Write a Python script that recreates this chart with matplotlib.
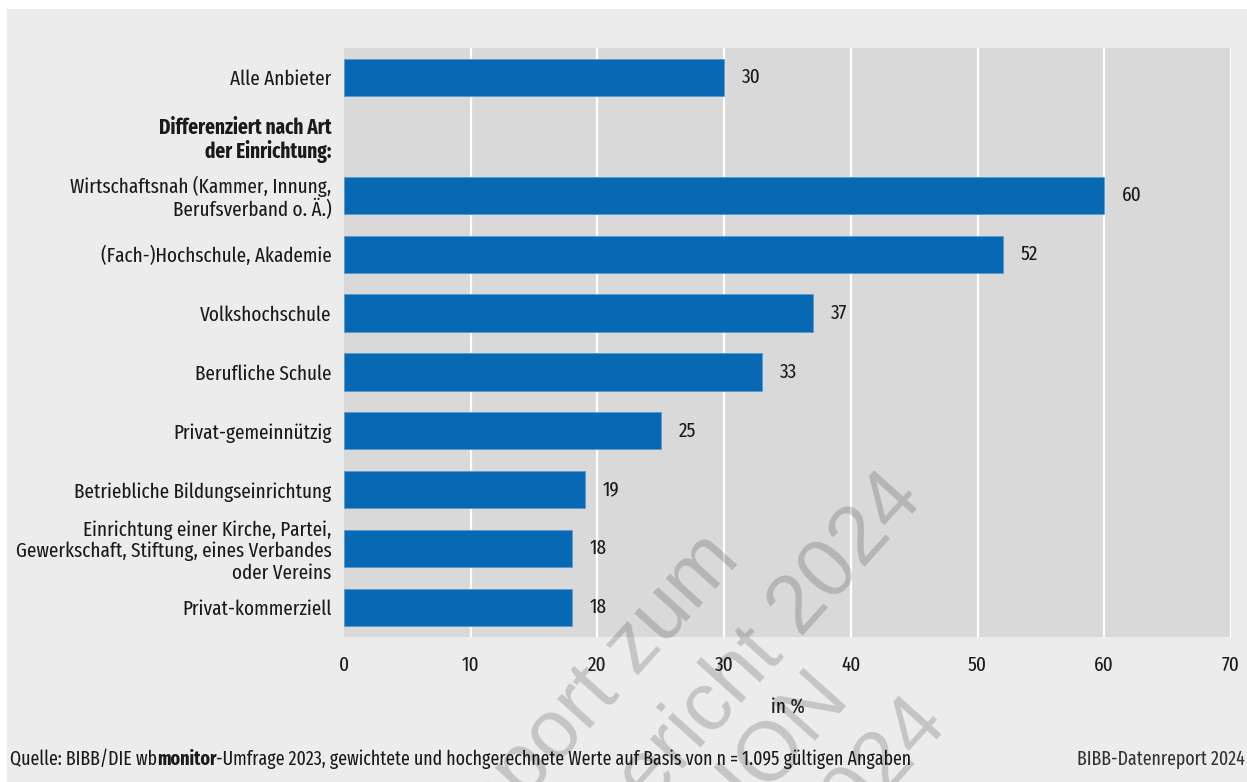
import matplotlib
matplotlib.use("Agg")
import matplotlib.pyplot as plt
from matplotlib import font_manager
from matplotlib.patches import Rectangle

# data
categories = ['Alle Anbieter',
              'Wirtschaftsnah (Kammer, Innung,\nBerufsverband o. Ä.)',
              '(Fach-)Hochschule, Akademie',
              'Volkshochschule',
              'Berufliche Schule',
              'Privat-gemeinnützig',
              'Betriebliche Bildungseinrichtung',
              'Einrichtung einer Kirche, Partei,\nGewerkschaft, Stiftung, eines Verbandes\noder Vereins',
              'Privat-kommerziell']
values = [30, 60, 52, 37, 33, 25, 19, 18, 18]
heading = 'Differenziert nach Art\nder Einrichtung:'
xticks = [0, 10, 20, 30, 40, 50, 60, 70]

# font: prefer a narrow face
names = {f.name for f in font_manager.fontManager.ttflist}
FONT = 'DejaVu Sans'
for cand in ['Fira Sans Extra Condensed', 'Fira Sans Condensed', 'Roboto Condensed',
             'Barlow Semi Condensed', 'Archivo Narrow', 'Asap Condensed']:
    if cand in names:
        FONT = cand
        break
FS = 15 if FONT != 'DejaVu Sans' else 11.5
plt.rcParams['font.family'] = [FONT, 'DejaVu Sans']
TXT = '#1a1a1a'

W, H = 1247, 782
fig = plt.figure(figsize=(W / 100, H / 100), dpi=100)
fig.patch.set_facecolor('white')
fig.patches.append(Rectangle((7 / W, 0), 1 - 7 / W, 1 - 9 / H, transform=fig.transFigure,
                             facecolor='#ececec', edgecolor='none', zorder=-10))

ax = fig.add_axes([344 / W, 1 - 637 / H, (1231 - 344) / W, (637 - 48) / H])
ax.set_facecolor('#d9d9d9')
for s in ax.spines.values():
    s.set_visible(False)

pos = [0] + list(range(2, 10))
ax.barh(pos, values, height=0.63, color='#0769b3', edgecolor='#5a9bd1', linewidth=0.6, zorder=3)
for p, v in zip(pos, values):
    ax.annotate(str(v), (v, p), xytext=(13, 0), textcoords='offset points',
                va='center', ha='left', fontsize=FS, color=TXT, zorder=4)

ax.set_xlim(0, 70)
ax.set_ylim(9.5, -0.5)
ax.set_xticks(xticks)
ax.set_xticklabels([str(t) for t in xticks], fontsize=FS, color=TXT)
ax.set_yticks([0, 1] + pos[1:])
ylabels = [categories[0], heading] + categories[1:]
ax.set_yticklabels(ylabels, fontsize=FS, color=TXT, linespacing=1.12)
ax.get_yticklabels()[1].set_fontweight('bold')
ax.tick_params(axis='both', length=0)
ax.tick_params(axis='y', pad=9)
ax.tick_params(axis='x', pad=13)

ax.grid(axis='x', color='white', linewidth=1.6, zorder=1)
ax.set_axisbelow(True)
ax.xaxis.get_gridlines()[0].set_visible(False)

ax.set_xlabel('in %', fontsize=FS, color=TXT)
ax.xaxis.label.set_va('center')
ax.xaxis.set_label_coords(0.5, (637 - 707) / 589)

# footer
FS2 = FS - 1
fig.canvas.draw()
r = fig.canvas.get_renderer()
x = 10 / W
yb = 1 - 765 / H
for txt, wt in [('Quelle: BIBB/DIE wb', 'normal'), ('monitor', 'bold'),
                ('-Umfrage 2023, gewichtete und hochgerechnete Werte auf Basis von n = 1.095 gültigen Angaben', 'normal')]:
    t = fig.text(x, yb, txt, fontsize=FS2, fontweight=wt, color=TXT, va='baseline', ha='left')
    bb = t.get_window_extent(renderer=r)
    x += bb.width / W
fig.text(1245 / W, yb, 'BIBB-Datenreport 2024', fontsize=FS2, color='#333333', va='baseline', ha='right')

# watermark
wm = [('Datenreport zum', 742, 560), ('Berufsbildungsbericht 2024', 925, 500),
      ('VORABVERSION', 852, 700), ('2024', 948, 722)]
for txt, px, py in wm:
    fig.text(px / W, 1 - py / H, txt, fontsize=60, family=['Liberation Sans', 'DejaVu Sans'],
             color='black', alpha=0.17, rotation=48, rotation_mode='anchor',
             ha='right', va='baseline', zorder=10)

fig.savefig('out.png', dpi=100, facecolor=fig.get_facecolor())
